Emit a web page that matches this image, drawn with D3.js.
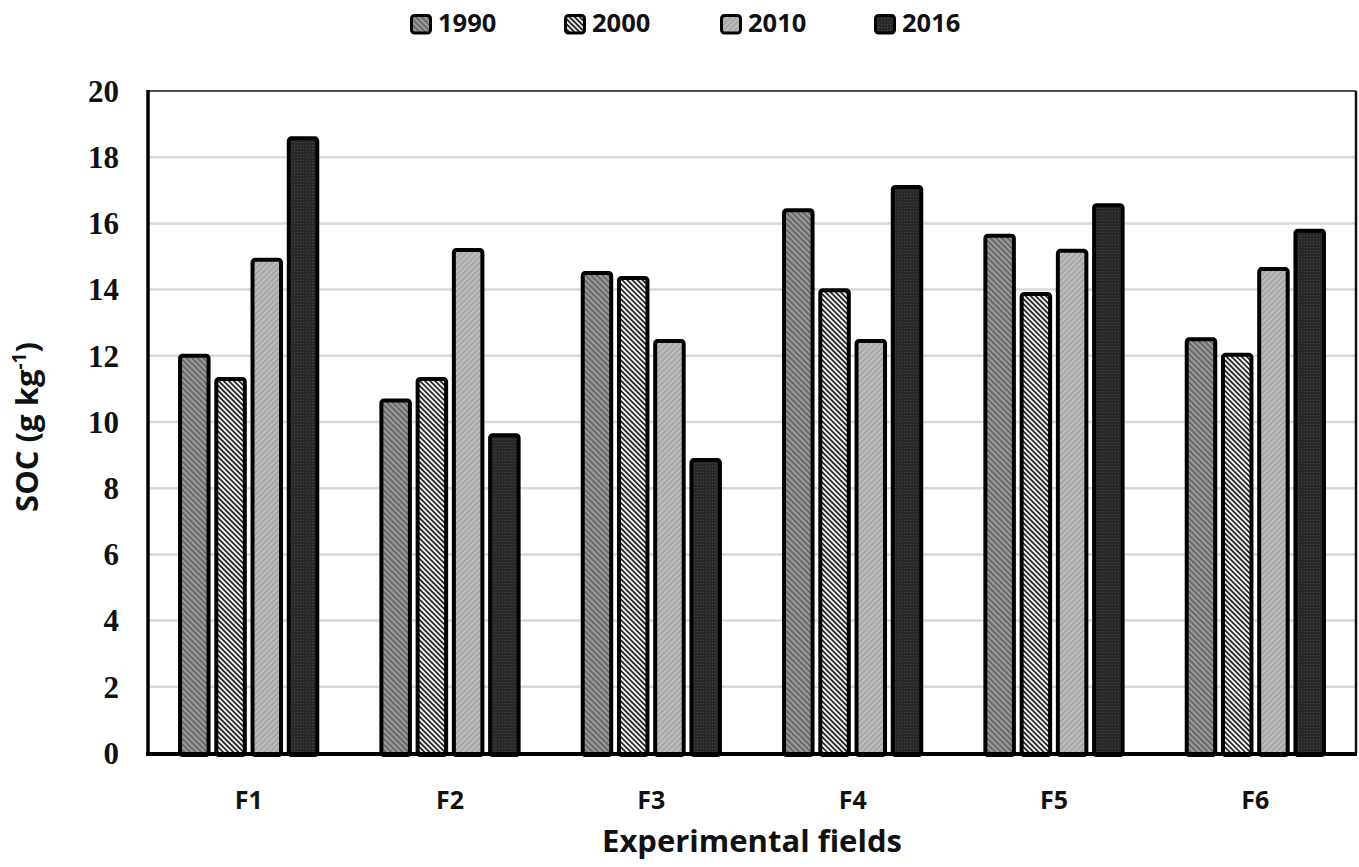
<!DOCTYPE html>
<html>
<head>
<meta charset="utf-8">
<script src="https://cdn.jsdelivr.net/npm/d3@7"></script>
<style>
  html, body { margin: 0; padding: 0; background: #fff; }
  svg { display: block; }
</style>
</head>
<body>
<svg id="chart" width="1359" height="867"></svg>
<script>
// ---- data ----
const categories = ["F1", "F2", "F3", "F4", "F5", "F6"];
const seriesNames = ["1990", "2000", "2010", "2016"];
const values1990 = [12.0, 10.65, 14.5, 16.4, 15.63, 12.5];
const values2000 = [11.3, 11.3, 14.35, 13.98, 13.87, 12.03];
const values2010 = [14.9, 15.2, 12.45, 12.45, 15.17, 14.62];
const values2016 = [18.57, 9.6, 8.85, 17.1, 16.55, 15.78];
const yTicks = [0, 2, 4, 6, 8, 10, 12, 14, 16, 18, 20];
const yTitle = "SOC (g kg";
const xTitle = "Experimental fields";

const seriesValues = [values1990, values2000, values2010, values2016];

const svg = d3.select("#chart");
const defs = svg.append("defs");
const sansFont = "'Open Sans', Lato, sans-serif";

// ---- patterns ----
function stripePattern(id, bg, fg, size, width, angle) {
  const p = defs.append("pattern")
    .attr("id", id)
    .attr("patternUnits", "userSpaceOnUse")
    .attr("width", size).attr("height", size)
    .attr("patternTransform", `rotate(${angle})`);
  p.append("rect").attr("width", size).attr("height", size).attr("fill", bg);
  p.append("line").attr("x1", size / 2).attr("x2", size / 2)
    .attr("y1", 0).attr("y2", size)
    .attr("stroke", fg).attr("stroke-width", width);
}
stripePattern("p1990", "#9a9a9a", "#5e5e5e", 4, 1.6, -45);
stripePattern("p2000", "#f2f2f2", "#1e1e1e", 3.6, 1.7, -45);
stripePattern("p2010", "#bdbdbd", "#9c9c9c", 4, 1.4, 45);
(function () {
  const p = defs.append("pattern")
    .attr("id", "p2016")
    .attr("patternUnits", "userSpaceOnUse")
    .attr("width", 3).attr("height", 3);
  p.append("rect").attr("width", 3).attr("height", 3).attr("fill", "#282828");
  p.append("rect").attr("x", 1).attr("y", 1).attr("width", 1).attr("height", 1).attr("fill", "#4a4a4a");
})();
const fills = ["url(#p1990)", "url(#p2000)", "url(#p2010)", "url(#p2016)"];

// ---- layout ----
const plotLeft = 148, plotRight = 1356, plotTop = 91, plotBottom = 753;

const x0 = d3.scaleBand().domain(categories).range([plotLeft, plotRight])
  .paddingInner(0.28).paddingOuter(0.14);
const x1 = d3.scaleBand().domain(seriesNames).range([0, x0.bandwidth()]).padding(0);
const y = d3.scaleLinear().domain([0, 20]).range([plotBottom, plotTop]);

// gridlines
svg.append("g").selectAll("line")
  .data(yTicks.filter(t => t > 0 && t < 20))
  .join("line")
  .attr("x1", plotLeft).attr("x2", plotRight)
  .attr("y1", d => y(d)).attr("y2", d => y(d))
  .attr("stroke", "#d9d9d9").attr("stroke-width", 2.5);

// top & right border
svg.append("line").attr("x1", plotLeft).attr("x2", plotRight).attr("y1", y(20)).attr("y2", y(20))
  .attr("stroke", "#111").attr("stroke-width", 1.6);
svg.append("line").attr("x1", plotRight).attr("x2", plotRight).attr("y1", y(20)).attr("y2", plotBottom)
  .attr("stroke", "#111").attr("stroke-width", 2.5);

// bars
const barW = 28.5;
const barStroke = 4;
const groups = svg.append("g").selectAll("g")
  .data(categories)
  .join("g")
  .attr("transform", d => `translate(${x0(d)},0)`);

groups.selectAll("rect")
  .data((c, ci) => seriesNames.map((s, si) => ({ s, si, v: seriesValues[si][ci] })))
  .join("rect")
  .attr("x", d => x1(d.s) + (x1.bandwidth() - barW) / 2)
  .attr("width", barW)
  .attr("y", d => y(d.v))
  .attr("height", d => plotBottom - y(d.v) + 2)
  .attr("rx", 2.5)
  .attr("fill", d => fills[d.si])
  .attr("stroke", "#000")
  .attr("stroke-width", barStroke);

// left axis line
svg.append("line").attr("x1", plotLeft).attr("x2", plotLeft).attr("y1", y(20) - 1).attr("y2", plotBottom + 2)
  .attr("stroke", "#000").attr("stroke-width", 3.5);
// bottom axis line
svg.append("line").attr("x1", plotLeft - 2).attr("x2", plotRight + 1).attr("y1", plotBottom + 1).attr("y2", plotBottom + 1)
  .attr("stroke", "#000").attr("stroke-width", 4);

// y axis labels
const yAxis = svg.append("g")
  .attr("transform", `translate(${plotLeft},0)`)
  .call(d3.axisLeft(y).tickValues(yTicks).tickSize(0).tickPadding(29).tickFormat(d3.format("d")));
yAxis.select(".domain").remove();
yAxis.selectAll("text")
  .attr("font-family", "'Liberation Serif', 'Times New Roman', serif")
  .attr("font-weight", "bold")
  .attr("font-size", 31)
  .attr("fill", "#111")
  .attr("dy", "0.33em");

// x axis labels
const xAxis = svg.append("g")
  .attr("transform", `translate(0,${plotBottom})`)
  .call(d3.axisBottom(x0).tickSize(0));
xAxis.select(".domain").remove();
xAxis.selectAll("text")
  .attr("font-family", sansFont)
  .attr("font-weight", "bold")
  .attr("font-size", 25)
  .attr("fill", "#111")
  .attr("dy", null)
  .attr("y", 56);

// axis titles
svg.append("text")
  .attr("x", plotLeft + (plotRight - plotLeft) / 2)
  .attr("y", 852)
  .attr("text-anchor", "middle")
  .attr("font-family", sansFont)
  .attr("font-weight", "bold")
  .attr("font-size", 31)
  .attr("fill", "#111")
  .text(xTitle);

const yt = svg.append("text")
  .attr("transform", `translate(38,427) rotate(-90)`)
  .attr("text-anchor", "middle")
  .attr("font-family", sansFont)
  .attr("font-weight", "bold")
  .attr("font-size", 31)
  .attr("fill", "#111");
yt.append("tspan").text(yTitle);
yt.append("tspan").attr("font-size", 19).attr("dy", -12).text("-1");
yt.append("tspan").attr("dy", 12).text(")");

// legend
const legendX = [410, 564, 720, 874];
const legend = svg.append("g").selectAll("g")
  .data(seriesNames)
  .join("g")
  .attr("transform", (d, i) => `translate(${legendX[i]},14)`);
legend.append("rect")
  .attr("x", 1.5).attr("y", 1.5)
  .attr("width", 19).attr("height", 17.5)
  .attr("rx", 3)
  .attr("fill", (d, i) => fills[i])
  .attr("stroke", "#000").attr("stroke-width", 3);
legend.append("text")
  .attr("x", 28).attr("y", 18)
  .attr("font-family", sansFont)
  .attr("font-weight", "bold")
  .attr("font-size", 25.5)
  .attr("fill", "#111")
  .text(d => d);
</script>
</body>
</html>
